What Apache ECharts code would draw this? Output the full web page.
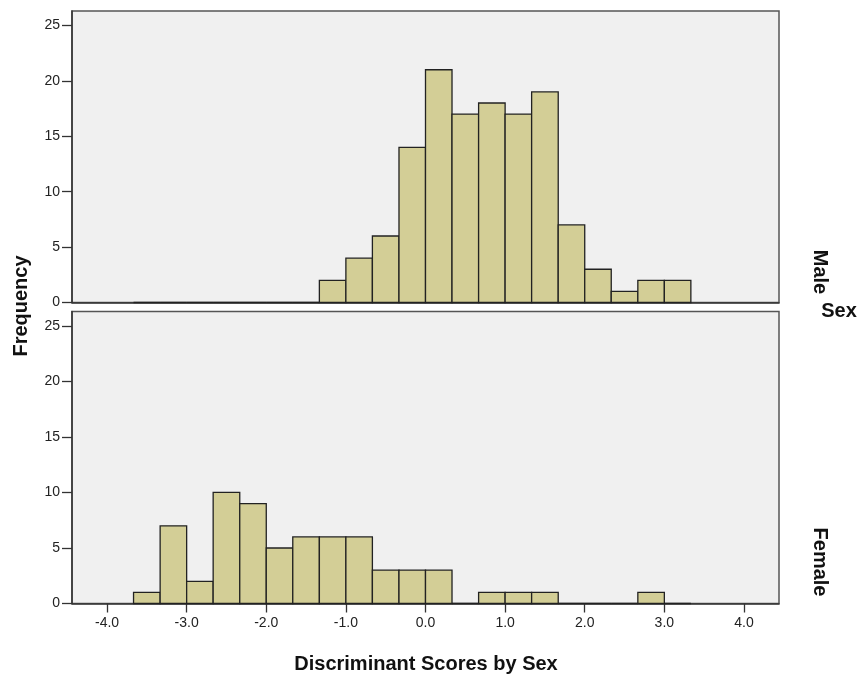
<!DOCTYPE html>
<html>
<head>
<meta charset="utf-8">
<script src="https://cdn.jsdelivr.net/npm/echarts@6/dist/echarts.min.js"></script>
<style>
  html, body { margin: 0; padding: 0; background: #fff; }
  #chart { width: 861px; height: 677px; }
</style>
</head>
<body>
<div id="chart"></div>
<script>
// bin edges (width 1/3), counts per bin
var binEdges = [-3.667, -3.333, -3.000, -2.667, -2.333, -2.000, -1.667, -1.333, -1.000, -0.667,
  -0.333, 0.000, 0.333, 0.667, 1.000, 1.333, 1.667, 2.000, 2.333, 2.667, 3.000, 3.333];
var maleCounts = [0, 0, 0, 0, 0, 0, 0, 2, 4, 6, 14, 21, 17, 18, 17, 19, 7, 3, 1, 2, 2];
var femaleCounts = [1, 7, 2, 10, 9, 5, 6, 6, 6, 3, 3, 3, 0, 1, 1, 1, 0, 0, 0, 1, 0];
var xTicks = [-4, -3, -2, -1, 0, 1, 2, 3, 4];
var yTicks = [0, 5, 10, 15, 20, 25];

function toBins(counts) {
  var out = [];
  for (var i = 0; i < counts.length; i++) {
    out.push([binEdges[i], binEdges[i + 1], counts[i]]);
  }
  return out;
}

function renderBar(params, api) {
  var p0 = api.coord([api.value(0), 0]);
  var p1 = api.coord([api.value(1), api.value(2)]);
  return {
    type: "rect",
    shape: { x: p0[0], y: p1[1], width: p1[0] - p0[0], height: p0[1] - p1[1] },
    style: { fill: "#d3ce96", stroke: "#222", lineWidth: 1.3 },
  };
}

var myChart = echarts.init(document.getElementById("chart"));

var axisColor = "#333";
var labelStyle = { color: "#222", fontSize: 14, fontFamily: "Liberation Sans, Arial, sans-serif" };

function xAxis(gridIndex, showLabels) {
  return {
    type: "value",
    gridIndex: gridIndex,
    min: -4.44,
    max: 4.44,
    axisLine: { show: true, onZero: false, lineStyle: { color: axisColor, width: 1.5 } },
    axisTick: { show: showLabels, length: 9, customValues: xTicks, lineStyle: { color: axisColor, width: 1.3 } },
    axisLabel: Object.assign({
      show: showLabels,
      customValues: xTicks,
      margin: 13,
      formatter: function (v) { return v.toFixed(1); },
    }, labelStyle),
    splitLine: { show: false },
  };
}

function yAxis(gridIndex) {
  return {
    type: "value",
    gridIndex: gridIndex,
    min: 0,
    max: 26.3,
    axisLine: { show: true, onZero: false, lineStyle: { color: axisColor, width: 1.5 } },
    axisTick: { show: true, length: 10, customValues: yTicks, lineStyle: { color: axisColor, width: 1.3 } },
    axisLabel: Object.assign({ customValues: yTicks, margin: 12 }, labelStyle),
    splitLine: { show: false },
  };
}

var titleFont = { fontFamily: "Liberation Sans, Arial, sans-serif", fontWeight: "bold", fill: "#111", fontSize: 20, align: "center", verticalAlign: "middle" };

var option = {
  animation: false,
  backgroundColor: "#fff",
  grid: [
    { left: 72, top: 11, width: 707, height: 291.5, show: true, backgroundColor: "#f0f0f0", borderColor: "#555", borderWidth: 1.5 },
    { left: 72, top: 311.5, width: 707, height: 292, show: true, backgroundColor: "#f0f0f0", borderColor: "#555", borderWidth: 1.5 },
  ],
  xAxis: [xAxis(0, false), xAxis(1, true)],
  yAxis: [yAxis(0), yAxis(1)],
  series: [
    {
      name: "Male",
      type: "custom",
      xAxisIndex: 0,
      yAxisIndex: 0,
      renderItem: renderBar,
      encode: { x: [0, 1], y: 2 },
      data: toBins(maleCounts),
    },
    {
      name: "Female",
      type: "custom",
      xAxisIndex: 1,
      yAxisIndex: 1,
      renderItem: renderBar,
      encode: { x: [0, 1], y: 2 },
      data: toBins(femaleCounts),
    },
  ],
  graphic: [
    {
      type: "text", x: 426, y: 664,
      style: Object.assign({ text: "Discriminant Scores by Sex" }, titleFont),
    },
    {
      type: "text", x: 21, y: 306, rotation: Math.PI / 2,
      style: Object.assign({ text: "Frequency" }, titleFont),
    },
    {
      type: "text", x: 820, y: 272, rotation: -Math.PI / 2,
      style: Object.assign({ text: "Male" }, titleFont),
    },
    {
      type: "text", x: 839, y: 311,
      style: Object.assign({ text: "Sex" }, titleFont),
    },
    {
      type: "text", x: 820, y: 562, rotation: -Math.PI / 2,
      style: Object.assign({ text: "Female" }, titleFont),
    },
  ],
};

myChart.setOption(option);
</script>
</body>
</html>
